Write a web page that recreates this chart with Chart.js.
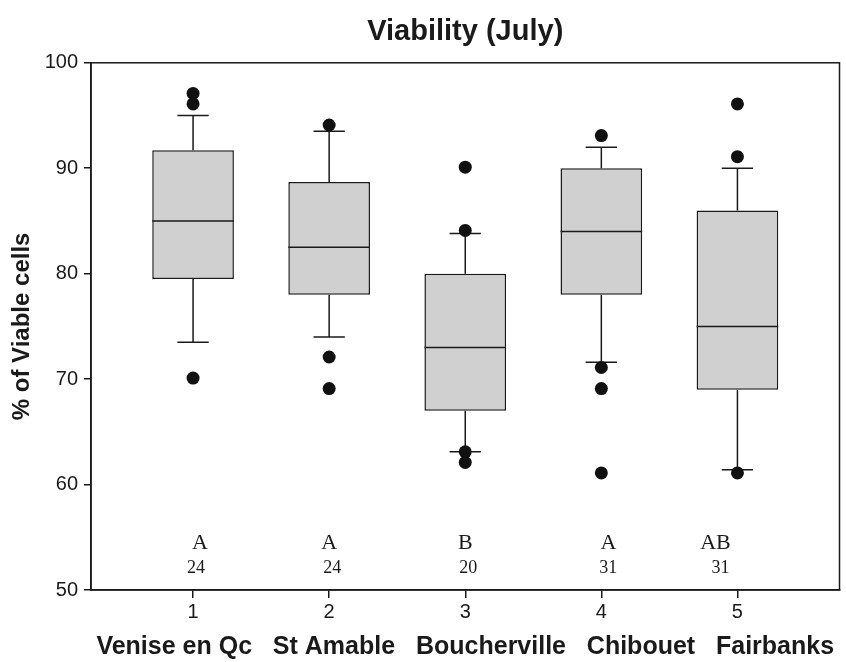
<!DOCTYPE html>
<html>
<head>
<meta charset="utf-8">
<title>Viability (July)</title>
<script src="https://cdn.jsdelivr.net/npm/chart.js"></script>
<style>
  html, body { margin: 0; padding: 0; background: #fff; }
  #wrap { width: 846px; height: 662px; }
</style>
</head>
<body>
<div id="wrap"><canvas id="chart" width="846" height="662"></canvas></div>
<script>
/* ── Viability (July) — box plot per site ───── */

const groupNames = ['Venise en Qc', 'St Amable', 'Boucherville', 'Chibouet', 'Fairbanks'];
const groupIds = [1, 2, 3, 4, 5];

const whiskerLow = [73.5, 74, 63.1, 71.6, 61.4];
const q1 = [79.5, 78, 67, 78, 69];
const median = [85, 82.5, 73, 84, 75];
const q3 = [91.7, 88.7, 80, 90, 86];
const whiskerHigh = [95, 93.5, 83.8, 92, 90];

const outliers = [
  [97.1, 96.1, 70.1],
  [94.1, 72.1, 69.1],
  [90.1, 84.1, 63.1, 62.1],
  [93.1, 71.1, 69.1, 61.1],
  [96.1, 91.1, 61.1]
];

const groupLetters = ['A', 'A', 'B', 'A', 'AB'];
const groupCounts = [24, 24, 20, 31, 31];
const letterLevel = 54.45;
const countLevel = 52.1;

const yTicks = [50, 60, 70, 80, 90, 100];

const ink = '#1a1a1a';
const sans = '"Liberation Sans", Arial, Helvetica, sans-serif';
const serif = '"Liberation Serif", "Times New Roman", serif';

// small pixel nudges for the letter / count annotations
const letterNudge = [7, 0, 0, 7, -22];
const countNudge = [3, 3, 3, 7, -17];

const boxData = groupIds.map((g, i) => ({ x: g, y: [q1[i], q3[i]] }));
const outlierData = [];
outliers.forEach((arr, i) => arr.forEach(v => outlierData.push({ x: groupIds[i], y: v })));

const boxExtras = {
  id: 'boxExtras',
  beforeDatasetsDraw(chart) {
    const { ctx, scales: { x, y } } = chart;
    ctx.save();
    ctx.strokeStyle = ink;
    ctx.lineWidth = 1.5;
    groupIds.forEach((g, i) => {
      const cx = x.getPixelForValue(g);
      const capL = x.getPixelForValue(g - 0.115);
      const capR = x.getPixelForValue(g + 0.115);
      const lo = y.getPixelForValue(whiskerLow[i]);
      const hi = y.getPixelForValue(whiskerHigh[i]);
      ctx.beginPath();
      ctx.moveTo(cx, y.getPixelForValue(q1[i])); ctx.lineTo(cx, lo);
      ctx.moveTo(cx, y.getPixelForValue(q3[i])); ctx.lineTo(cx, hi);
      ctx.moveTo(capL, lo); ctx.lineTo(capR, lo);
      ctx.moveTo(capL, hi); ctx.lineTo(capR, hi);
      ctx.stroke();
    });
    ctx.restore();
  },
  afterDatasetsDraw(chart) {
    const { ctx, chartArea: a, scales: { x, y } } = chart;
    const bars = chart.getDatasetMeta(1).data;
    ctx.save();
    ctx.strokeStyle = ink;
    ctx.lineWidth = 1.5;
    bars.forEach((bar, i) => {
      const my = y.getPixelForValue(median[i]);
      ctx.beginPath();
      ctx.moveTo(bar.x - bar.width / 2, my);
      ctx.lineTo(bar.x + bar.width / 2, my);
      ctx.stroke();
    });
    // frame round the plot
    ctx.strokeRect(a.left, a.top, a.right - a.left, a.bottom - a.top);

    ctx.fillStyle = ink;
    ctx.textAlign = 'center';
    ctx.textBaseline = 'middle';
    groupIds.forEach((g, i) => {
      const cx = x.getPixelForValue(g);
      ctx.font = '22px ' + serif;
      ctx.fillText(groupLetters[i], cx + letterNudge[i], y.getPixelForValue(letterLevel));
      ctx.font = '18px ' + serif;
      ctx.fillText(String(groupCounts[i]), cx + countNudge[i], y.getPixelForValue(countLevel));
    });
    ctx.restore();
  }
};

new Chart(document.getElementById('chart'), {
  data: {
    datasets: [
      {
        type: 'scatter',
        label: 'Outliers',
        data: outlierData,
        pointRadius: 6.5,
        pointHoverRadius: 6.5,
        backgroundColor: '#111',
        borderColor: '#111',
        borderWidth: 0,
        order: 0
      },
      {
        type: 'bar',
        label: 'IQR',
        data: boxData,
        backgroundColor: '#d0d0d0',
        borderColor: ink,
        borderWidth: 1.5,
        borderSkipped: false,
        barPercentage: 0.6,
        categoryPercentage: 1,
        order: 1
      }
    ]
  },
  options: {
    responsive: false,
    animation: false,
    devicePixelRatio: 1,
    layout: { padding: { left: 0, right: 5, top: 0, bottom: 0 } },
    plugins: {
      legend: { display: false },
      tooltip: { enabled: false },
      title: {
        display: true,
        text: 'Viability (July)',
        color: ink,
        fullSize: false,
        font: { family: sans, size: 29, weight: 'bold' },
        padding: { top: 15, bottom: 13 }
      }
    },
    scales: {
      x: {
        type: 'linear',
        min: 0.25,
        max: 5.75,
        offset: false,
        afterBuildTicks: (s) => { s.ticks = groupIds.map(v => ({ value: v })); },
        afterFit: (s) => { s.height = 72; },
        grid: { offset: false, drawOnChartArea: false, drawTicks: true, tickLength: 8, color: ink, lineWidth: 1.5 },
        border: { display: true, color: ink, width: 1.5 },
        ticks: { color: ink, font: { family: sans, size: 20 }, padding: 2, maxRotation: 0 },
        title: {
          display: true,
          text: groupNames.join('   '),
          color: ink,
          font: { family: sans, size: 25, weight: 'bold' },
          padding: { top: 0, bottom: 0 }
        }
      },
      y: {
        min: 50,
        max: 100,
        afterBuildTicks: (s) => { s.ticks = yTicks.map(v => ({ value: v })); },
        afterFit: (s) => { s.width = 91; },
        grid: { drawOnChartArea: false, drawTicks: true, tickLength: 7, color: ink, lineWidth: 1.5 },
        border: { display: true, color: ink, width: 1.5 },
        ticks: { color: ink, font: { family: sans, size: 20 }, padding: 6 },
        title: {
          display: true,
          text: '% of Viable cells',
          color: ink,
          font: { family: sans, size: 24, weight: 'bold' },
          padding: { top: 8, bottom: 0 }
        }
      }
    }
  },
  plugins: [boxExtras]
});
</script>
</body>
</html>
